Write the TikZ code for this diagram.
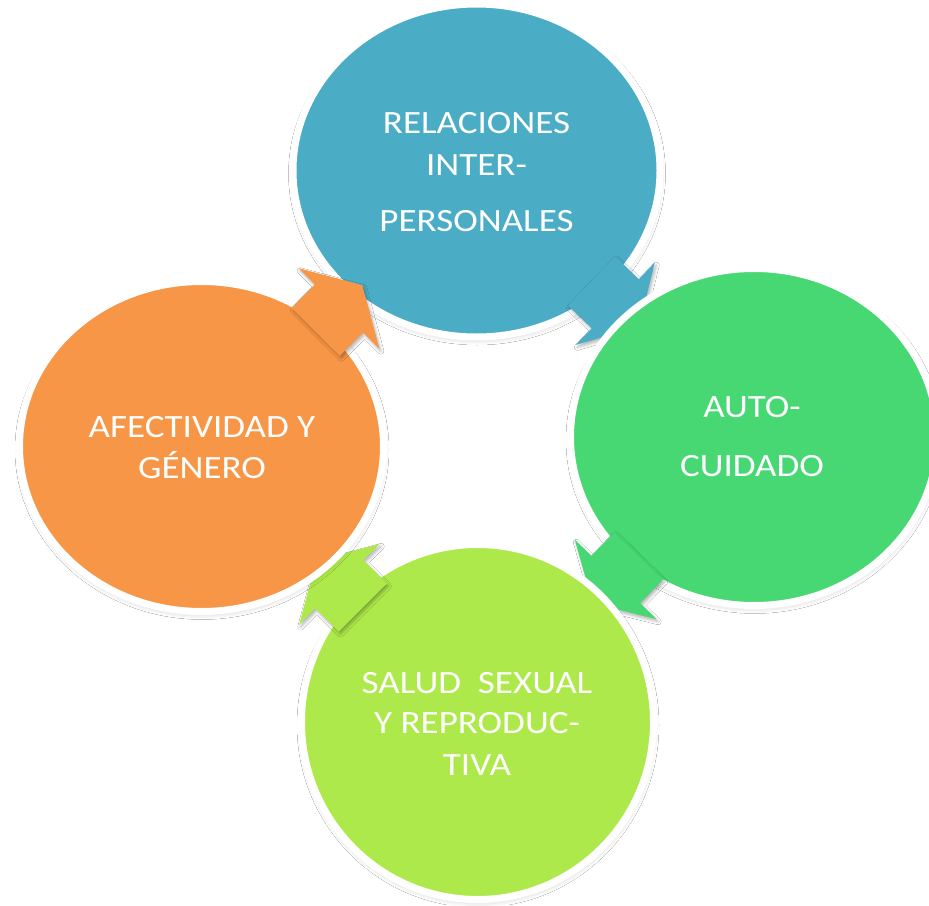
\documentclass[tikz,border=0pt]{standalone}
\usepackage{fontspec}
\setmainfont{Carlito}
\usetikzlibrary{shapes.geometric,shadows.blur}
\definecolor{cblue}{HTML}{4BACC6}
\definecolor{cgreen}{HTML}{48D873}
\definecolor{clime}{HTML}{ADE94A}
\definecolor{corange}{HTML}{F79646}
\tikzset{
  bubble/.style={ellipse, draw=white, line width=7pt, inner sep=0pt,
    blur shadow={shadow xshift=0.5pt, shadow yshift=-3pt, shadow blur radius=5pt, shadow opacity=20}},
  lbl/.style={anchor=base, text=white, font=\fontsize{32.5}{39}\selectfont, inner sep=0pt},
  blockarrow/.style={blur shadow={shadow xshift=1.5pt, shadow yshift=-2.5pt, shadow blur radius=3pt, shadow opacity=30}},
}
\newcommand{\wide}[1]{\scalebox{1.14}[1]{#1}}
% #1 cx, #2 cy, #3 ux, #4 uy, #5 style
\newcommand{\cycarrow}[5]{%
  \path[#5]
    ({#1+(-33)*(#3)-(-34)*(#4)},{#2+(-33)*(#4)+(-34)*(#3)}) --
    ({#1-(-34)*(#4)},{#2+(-34)*(#3)}) --
    ({#1-(-57)*(#4)},{#2+(-57)*(#3)}) --
    ({#1+33*(#3)},{#2+33*(#4)}) --
    ({#1-57*(#4)},{#2+57*(#3)}) --
    ({#1-34*(#4)},{#2+34*(#3)}) --
    ({#1+(-33)*(#3)-34*(#4)},{#2+(-33)*(#4)+34*(#3)}) -- cycle;}
\begin{document}
\begin{tikzpicture}[x=1pt,y=-1pt]
\useasboundingbox (0,0) rectangle (929,905);
\path[fill=white] (0,0) rectangle (929,905);

% top circle and its arrow
\node[bubble, fill=cblue, minimum width=367pt, minimum height=333pt] (rel) at (476.5,170.5) {};
\cycarrow{615.25}{303.75}{0.7213}{0.6927}{fill=cblue, blockarrow}
% right circle and its arrow
\node[bubble, fill=cgreen, minimum width=367pt, minimum height=337pt] (auto) at (754,437) {};
\cycarrow{615.75}{579.5}{-0.6963}{0.7177}{fill=cgreen, blockarrow}
% bottom circle and its arrow
\node[bubble, fill=clime, minimum width=352pt, minimum height=355pt] (salud) at (477.5,722) {};
\cycarrow{339.5}{584.25}{-0.7077}{-0.7064}{fill=clime, blockarrow}
% left circle and its arrow
\node[bubble, fill=corange, minimum width=364pt, minimum height=330pt] (afec) at (201.5,446.5) {};
\cycarrow{339}{308.5}{0.7058}{-0.7084}{fill=corange, blockarrow}

% texts
\node[lbl] (rel1) at (476.5,133) {\wide{RELACIONES}};
\node[lbl] (rel2) at (476.5,175) {\wide{INTER-}};
\node[lbl] (rel3) at (476.5,231) {\wide{PERSONALES}};
\node[lbl] (auto1) at (752,417) {\wide{AUTO-}};
\node[lbl] (auto2) at (752,476) {\wide{CUIDADO}};
\node[lbl] (salud1) at (477,693) {\wide{SALUD\ \ SEXUAL}};
\node[lbl] (salud2) at (477,733) {\wide{Y REPRODUC-}};
\node[lbl] (salud3) at (477,775) {\wide{TIVA}};
\node[lbl] (afec1) at (202,437) {\wide{AFECTIVIDAD Y}};
\node[lbl] (afec2) at (202,478) {\wide{GÉNERO}};
\end{tikzpicture}
\end{document}
